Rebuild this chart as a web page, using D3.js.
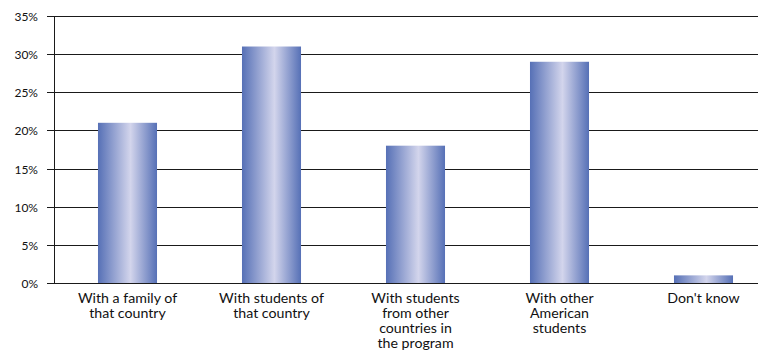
<!DOCTYPE html>
<html>
<head>
<meta charset="utf-8">
<script src="https://cdn.jsdelivr.net/npm/d3@7"></script>
<style>
  html, body { margin: 0; padding: 0; background: #fff; }
  svg { display: block; }
  text { font-family: "Lato", "Open Sans", sans-serif; fill: #111; }
</style>
</head>
<body>
<svg id="chart" width="758" height="352"></svg>
<script>
// Where the students lived during the program (percent of respondents)
const categories = [
  ["With a family of", "that country"],
  ["With students of", "that country"],
  ["With students", "from other", "countries in", "the program"],
  ["With other", "American", "students"],
  ["Don't know"]
];
const values = [21, 31, 18, 29, 1];
const yTicks = [0, 5, 10, 15, 20, 25, 30, 35];

const W = 758, H = 352;
const plotLeft = 54, plotTop = 16, plotBottom = 283;

const svg = d3.select("#chart");

const defs = svg.append("defs");
const grad = defs.append("linearGradient")
  .attr("id", "barGrad").attr("x1", "0%").attr("x2", "100%").attr("y1", "0%").attr("y2", "0%");
grad.append("stop").attr("offset", "0%").attr("stop-color", "#5670b6");
grad.append("stop").attr("offset", "55%").attr("stop-color", "#d3d5ec");
grad.append("stop").attr("offset", "100%").attr("stop-color", "#5670b6");

// the plot runs past the right edge of the page, so the band range does too
const x = d3.scaleBand()
  .domain(d3.range(categories.length))
  .range([plotLeft + 1.5, plotLeft + 1.5 + 144 * categories.length])
  .paddingInner(0.59).paddingOuter(0.295);

const y = d3.scaleLinear().domain([0, 35]).range([plotBottom, plotTop]);

// horizontal gridlines with ticks on the left
const grid = svg.append("g");
grid.selectAll("line").data(yTicks).join("line")
  .attr("x1", plotLeft - 7).attr("x2", W)
  .attr("y1", d => Math.round(y(d)) + 0.5).attr("y2", d => Math.round(y(d)) + 0.5)
  .attr("stroke", "#1a1a1a").attr("stroke-width", 1);

// y tick labels
svg.append("g").selectAll("text").data(yTicks).join("text")
  .attr("x", 38).attr("y", d => Math.round(y(d)) + 0.5)
  .attr("text-anchor", "end").attr("dominant-baseline", "central")
  .attr("font-size", 12)
  .text(d => d + "%");

// bars
svg.append("g").selectAll("rect").data(values).join("rect")
  .attr("x", (d, i) => x(i))
  .attr("width", x.bandwidth())
  .attr("y", d => y(d))
  .attr("height", d => y(0) - y(d))
  .attr("fill", "url(#barGrad)");

// y axis line
svg.append("line")
  .attr("x1", plotLeft + 0.5).attr("x2", plotLeft + 0.5)
  .attr("y1", plotTop).attr("y2", plotBottom + 1)
  .attr("stroke", "#1a1a1a");

// category labels
const lab = svg.append("g").selectAll("text").data(categories).join("text")
  .attr("text-anchor", "middle")
  .attr("font-size", 14.2)
  .attr("transform", (d, i) => `translate(${x(i) + x.bandwidth() / 2},${302.5})`);
lab.selectAll("tspan").data(d => d).join("tspan")
  .attr("x", 0).attr("dy", (d, j) => j === 0 ? 0 : 15)
  .text(d => d);
</script>
</body>
</html>
